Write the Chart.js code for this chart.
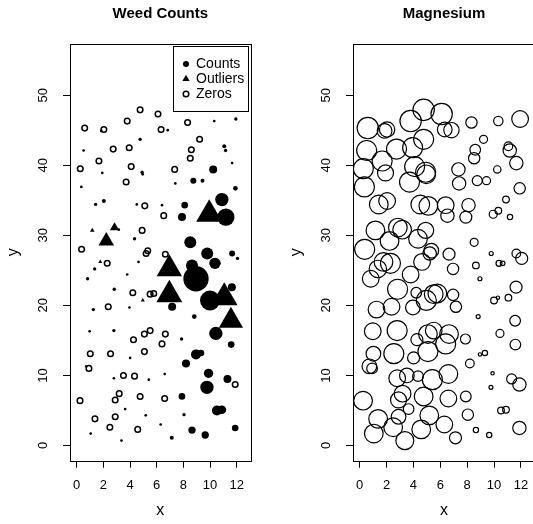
<!DOCTYPE html>
<html>
<head>
<meta charset="utf-8">
<script src="https://cdn.jsdelivr.net/npm/chart.js@4.4.0/dist/chart.umd.min.js"></script>
<style>
html, body { margin: 0; padding: 0; background: #fff; }
body { position: relative; width: 533px; height: 524px; overflow: hidden; }
.panel { position: absolute; top: 0; width: 266px; height: 524px; }
#weedBox { left: 0; }
#mgBox { left: 283px; }
</style>
</head>
<body>
<div class="panel" id="weedBox"><canvas id="weedChart" width="266" height="524"></canvas></div>
<div class="panel" id="mgBox"><canvas id="mgChart" width="266" height="524"></canvas></div>
<script>
'use strict'

// sample sites with no weeds (open circles)
const zeroX = [0.6, 2.04, 3.79, 4.76, 6.1, 6.33, 8.32, 2.74, 3.94, 9.22, 8.6, 1.67, 0.27, 4.09, 8.52, 7.35, 3.71,
    5.11, 6.53, 4.91, 0.37, 5.33, 5.21, 6.65, 2.29, 4.21, 5.51, 5.78, 2.37, 5.51, 5.08, 4.26, 6.65, 6.4,
    1.02, 2.54, 5.08, 0.92, 3.51, 4.34, 11.89, 3.19, 2.89, 0.25, 4.76, 6.6, 1.37, 2.89, 2.49, 4.58];
const zeroY = [45.3, 45.1, 46.3, 47.9, 47.3, 45.1, 46.1, 42.3, 42.5, 43.7, 42.2, 40.6, 39.5, 39.8, 41.0, 39.4, 37.6,
    34.2, 32.8, 30.7, 28.0, 27.8, 27.4, 27.3, 26.0, 21.8, 21.6, 21.7, 19.8, 16.4, 15.9, 15.1, 15.9, 14.5,
    13.1, 13.1, 13.4, 11.0, 10.0, 9.9, 8.7, 7.4, 6.5, 6.4, 7.0, 6.7, 3.8, 4.1, 2.6, 2.3];
const zeroMg = [32, 23, 32, 32, 32, 22, 17, 30, 30, 12, 16, 30, 30, 30, 17, 20, 30,
    28, 20, 24, 30, 22, 20, 18, 30, 16, 28, 28, 25, 25, 28, 18, 28, 30,
    22, 30, 30, 16, 22, 16, 20, 25, 24, 28, 28, 25, 28, 22, 28, 28];

// sites with weeds (filled circles)
const countX = [10.32, 11.94, 0.52, 4.76, 11.07, 11.17, 1.92, 4.91, 4.95, 10.24, 11.66, 0.35, 7.4, 8.75, 9.44, 11.91,
    6.83, 1.85, 1.42, 2.04, 4.51, 6.4, 8.1, 7.9, 10.89, 11.19, 10.32, 3.16, 4.34, 8.52, 9.79, 11.66, 12.06,
    10.37, 10.64, 8.65, 1.35, 4.64, 3.79, 0.82, 8.95, 2.82, 7.16, 10.0, 10.29, 11.64, 1.25, 3.96, 8.82,
    0.97, 2.79, 7.87, 10.44, 11.59, 4.01, 8.2, 8.95, 9.32, 0.72, 2.79, 5.41, 6.6, 9.89, 11.31, 9.77, 7.9,
    3.64, 5.18, 8.05, 10.52, 10.89, 1.05, 3.36, 6.3, 7.13, 8.65, 9.64, 11.89];
const countY = [46.3, 46.6, 42.1, 43.7, 42.7, 42.1, 38.9, 39.0, 38.7, 39.4, 40.3, 36.9, 37.4, 37.8, 37.8, 36.7,
    45.0, 44.9, 34.4, 34.9, 34.4, 34.3, 34.3, 32.6, 35.1, 32.6, 33.5, 30.8, 29.5, 29.0, 27.4, 27.4, 26.7,
    26.0, 26.0, 25.7, 25.2, 26.2, 24.4, 23.8, 23.8, 22.3, 19.8, 20.7, 21.1, 22.6, 19.4, 19.7, 18.4,
    16.3, 16.4, 15.2, 16.0, 14.4, 12.5, 11.7, 13.0, 13.2, 11.3, 9.6, 9.4, 10.2, 10.3, 9.5, 8.3, 7.0,
    5.2, 4.3, 4.4, 5.0, 5.1, 1.7, 0.7, 3.0, 1.1, 2.2, 1.5, 2.5];
const countN = [4, 5, 4, 5, 6, 5, 4, 5, 4, 12, 4, 4, 4, 9, 6, 7,
    4, 4, 5, 6, 4, 4, 10, 12, 20, 26, 4, 4, 5, 18, 18, 9, 5,
    17, 6, 18, 5, 4, 4, 5, 38, 5, 12, 30, 5, 12, 5, 4, 7,
    4, 5, 5, 20, 10, 4, 12, 15, 10, 4, 4, 4, 4, 14, 12, 20, 10,
    4, 4, 5, 15, 13, 4, 4, 4, 6, 11, 11, 10];
const countMg = [14, 25, 30, 30, 13, 20, 24, 30, 28, 11, 20, 30, 20, 15, 12, 17,
    23, 22, 28, 25, 28, 25, 20, 18, 10, 8, 10, 28, 28, 12, 6, 13, 18,
    9, 7, 10, 26, 25, 25, 25, 6, 30, 17, 10, 5, 18, 25, 22, 6,
    25, 30, 15, 12, 16, 18, 13, 5, 8, 22, 25, 30, 28, 5, 15, 6, 16,
    16, 28, 17, 10, 10, 28, 27, 25, 18, 8, 8, 20];

// outlying counts (filled triangles)
const outX = [9.94, 6.95, 6.95, 11.07, 11.57, 2.22, 2.84, 1.17, 1.77, 4.96];
const outY = [33.0, 25.2, 21.5, 21.1, 17.8, 29.2, 31.1, 30.7, 26.2, 20.7];
const outN = [45, 44, 45, 46, 42, 27, 16, 8, 7, 7];
const outMg = [12, 17, 17, 10, 16, 28, 28, 28, 28, 30];

const xTicks = [0, 2, 4, 6, 8, 10, 12];
const yTicks = [0, 10, 20, 30, 40, 50];
const legendLabels = ['Counts', 'Outliers', 'Zeros'];

const FONT = "'Liberation Sans', Arial, Helvetica, sans-serif";

function pts(xs, ys) {
    return xs.map(function (x, i) { return {x: x, y: ys[i]}; });
}
function sizeRadius(v) {
    return v / 3;
}

function makeScales() {
    let tickGrid = {display: true, drawOnChartArea: false, drawTicks: true, tickLength: 7, color: '#000', lineWidth: 1};
    return {
        x: {
            type: 'linear', min: -0.5, max: 13.05,
            grid: tickGrid,
            border: {display: false},
            ticks: {color: '#000', font: {family: FONT, size: 13}, padding: 10, autoSkip: false, maxRotation: 0},
            afterBuildTicks: function (s) { s.ticks = xTicks.map(function (v) { return {value: v}; }); },
            afterFit: function (s) { s.height = 63.3; },
            title: {display: true, text: 'x', color: '#000', font: {family: FONT, size: 16}, padding: {top: 0, bottom: 4}}
        },
        y: {
            type: 'linear', min: -2.17, max: 57.3,
            grid: tickGrid,
            border: {display: false},
            ticks: {color: '#000', font: {family: FONT, size: 13}, padding: 12, crossAlign: 'center',
                minRotation: 90, maxRotation: 90, autoSkip: false},
            afterBuildTicks: function (s) { s.ticks = yTicks.map(function (v) { return {value: v}; }); },
            afterFit: function (s) { s.width = 70; },
            title: {display: true, text: 'y', color: '#000', font: {family: FONT, size: 16}, padding: {top: 4, bottom: 0}}
        }
    };
}

function makePlugins(title) {
    return {
        legend: {display: false},
        tooltip: {enabled: false},
        title: {display: true, text: title, fullSize: false, color: '#000',
            font: {family: FONT, size: 15, weight: 'bold', lineHeight: 1.2}, padding: {top: 5, bottom: 21}}
    };
}

// box round the plot region
const frame = {
    id: 'frame',
    afterDraw: function (chart) {
        let a = chart.chartArea;
        let ctx = chart.ctx;
        ctx.save();
        ctx.strokeStyle = '#000';
        ctx.lineWidth = 1;
        ctx.strokeRect(Math.round(a.left) + 0.5, Math.round(a.top) + 0.5,
            Math.round(a.right - a.left), Math.round(a.bottom - a.top));
        ctx.restore();
    }
};

// legend box in the top right corner of the weed panel
const weedLegend = {
    id: 'weedLegend',
    afterDraw: function (chart) {
        let a = chart.chartArea;
        let ctx = chart.ctx;
        let w = 75, h = 65;
        let left = Math.round(a.right - 3 - w) + 0.5, top = Math.round(a.top + 2) + 0.5;
        ctx.save();
        ctx.fillStyle = '#fff';
        ctx.fillRect(left, top, w, h);
        ctx.strokeStyle = '#000';
        ctx.lineWidth = 1;
        ctx.strokeRect(left, top, w, h);
        ctx.font = '14px ' + FONT;
        ctx.textBaseline = 'middle';
        ctx.textAlign = 'left';
        legendLabels.forEach(function (label, i) {
            let cy = top + 17.5 + i * 15;
            let sx = left + 12.5;
            ctx.fillStyle = '#000';
            ctx.beginPath();
            if (i === 0) {
                ctx.arc(sx, cy, 3, 0, Math.PI * 2);
                ctx.fill();
            } else if (i === 1) {
                let r = 4.2;
                ctx.moveTo(sx, cy - r);
                ctx.lineTo(sx + r * 0.866, cy + r / 2);
                ctx.lineTo(sx - r * 0.866, cy + r / 2);
                ctx.closePath();
                ctx.fill();
            } else {
                ctx.lineWidth = 1.5;
                ctx.arc(sx, cy, 2.8, 0, Math.PI * 2);
                ctx.stroke();
            }
            ctx.fillText(label, sx + 10, cy);
        });
        ctx.restore();
    }
};

let weedChart = new Chart(document.getElementById('weedChart'), {
    type: 'scatter',
    data: {
        datasets: [{
            label: 'Counts',
            data: pts(countX, countY),
            pointStyle: 'circle',
            pointRadius: countN.map(sizeRadius),
            backgroundColor: '#000',
            borderWidth: 0
        }, {
            label: 'Outliers',
            data: pts(outX, outY),
            pointStyle: 'triangle',
            pointRadius: outN.map(sizeRadius),
            backgroundColor: '#000',
            borderWidth: 0
        }, {
            label: 'Zeros',
            data: pts(zeroX, zeroY),
            pointStyle: 'circle',
            pointRadius: 2.8,
            backgroundColor: 'rgba(0,0,0,0)',
            borderColor: '#000',
            borderWidth: 1.5
        }]
    },
    options: {
        responsive: false,
        animation: false,
        events: [],
        layout: {padding: {left: 0, right: 14, top: 0, bottom: 0}},
        scales: makeScales(),
        plugins: makePlugins('Weed Counts')
    },
    plugins: [frame, weedLegend]
});

let mgChart = new Chart(document.getElementById('mgChart'), {
    type: 'scatter',
    data: {
        datasets: [{
            label: 'Magnesium',
            data: pts(zeroX.concat(countX, outX), zeroY.concat(countY, outY)),
            pointStyle: 'circle',
            pointRadius: zeroMg.concat(countMg, outMg).map(sizeRadius),
            backgroundColor: 'rgba(0,0,0,0)',
            borderColor: '#000',
            borderWidth: 1.2
        }]
    },
    options: {
        responsive: false,
        animation: false,
        events: [],
        layout: {padding: {left: 0, right: 14, top: 0, bottom: 0}},
        scales: makeScales(),
        plugins: makePlugins('Magnesium')
    },
    plugins: [frame]
});
</script>
</body>
</html>
